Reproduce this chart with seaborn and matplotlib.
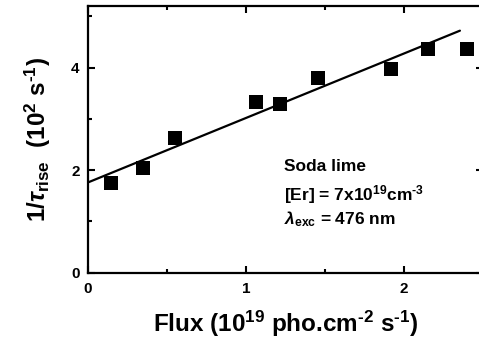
import matplotlib
matplotlib.use("Agg")
import matplotlib.pyplot as plt
import seaborn as sns
import numpy as np
import pandas as pd
from matplotlib.ticker import MultipleLocator

# Measured rise rates versus photon flux
flux = [0.146, 0.35, 0.55, 1.063, 1.215, 1.454, 1.92, 2.15, 2.40]
rate = [1.75, 2.05, 2.63, 3.33, 3.29, 3.80, 3.98, 4.37, 4.36]

# Linear fit parameters and the flux range it is drawn over
fit_intercept = 1.76
fit_slope = 1.257
fit_range = [0.0, 2.354]

x_ticks = [0, 1, 2]
y_ticks = [0, 2, 4]

sns.set_theme(style="ticks")
plt.rcParams["font.family"] = ["Liberation Sans", "DejaVu Sans"]
plt.rcParams["font.weight"] = "bold"
plt.rcParams["text.color"] = "black"
plt.rcParams["axes.labelcolor"] = "black"
plt.rcParams["xtick.color"] = "black"
plt.rcParams["ytick.color"] = "black"
plt.rcParams["axes.unicode_minus"] = False
plt.rcParams["mathtext.fontset"] = "custom"
plt.rcParams["mathtext.rm"] = "Liberation Sans:bold"
plt.rcParams["mathtext.bf"] = "Liberation Sans:bold"
plt.rcParams["mathtext.it"] = "Liberation Sans:bold:italic"
plt.rcParams["mathtext.default"] = "rm"

fig = plt.figure(figsize=(4.79, 3.42), dpi=100)
ax = fig.add_axes([88 / 479, (342 - 272.7) / 342, 395 / 479, (272.7 - 6) / 342])

data = pd.DataFrame({"flux": flux, "rate": rate})
sns.scatterplot(data=data, x="flux", y="rate", marker="s", s=110,
                color="black", edgecolor="black", linewidth=0, ax=ax, zorder=3)

fx = np.array(fit_range)
fit = pd.DataFrame({"flux": fx, "rate": fit_intercept + fit_slope * fx})
sns.lineplot(data=fit, x="flux", y="rate", color="black", linewidth=1.6, ax=ax)

ax.set_xlim(0, 2.5)
ax.set_ylim(0, 5.2)
ax.set_xticks(x_ticks)
ax.set_yticks(y_ticks)
ax.xaxis.set_minor_locator(MultipleLocator(0.5))
ax.yaxis.set_minor_locator(MultipleLocator(1))
ax.tick_params(which="both", direction="in", top=True, right=True,
               width=1.5, labelsize=11)
ax.tick_params(axis="x", which="major", pad=7)
ax.tick_params(axis="y", which="major", pad=6)
ax.tick_params(which="major", length=5)
ax.tick_params(which="minor", length=3)
for lab in ax.get_xticklabels() + ax.get_yticklabels():
    lab.set_fontweight("bold")
for sp in ax.spines.values():
    sp.set_linewidth(1.6)
    sp.set_color("black")

ax.set_xlabel(r"Flux (10$^{19}$ pho.cm$^{\text{-2}}$ s$^{\text{-1}}$)",
              fontsize=17.5, fontweight="bold", labelpad=9)
ax.set_ylabel(r"1/$\mathit{\tau}_{\rm rise}$  (10$^{2}$ s$^{\text{-1}}$)",
              fontsize=17.5, fontweight="bold", labelpad=13)

ax.text(1.24, 2.08, "Soda lime", fontsize=12.5, fontweight="bold", va="center")
ax.text(1.24, 1.52, r"[Er] = 7x10$^{19}$cm$^{\text{-3}}$", fontsize=12.5,
        fontweight="bold", va="center")
ax.text(1.24, 1.04, r"$\mathit{\lambda}_{\rm exc}$ = 476 nm", fontsize=12.5,
        fontweight="bold", va="center")

fig.savefig("out.png", dpi=100)
